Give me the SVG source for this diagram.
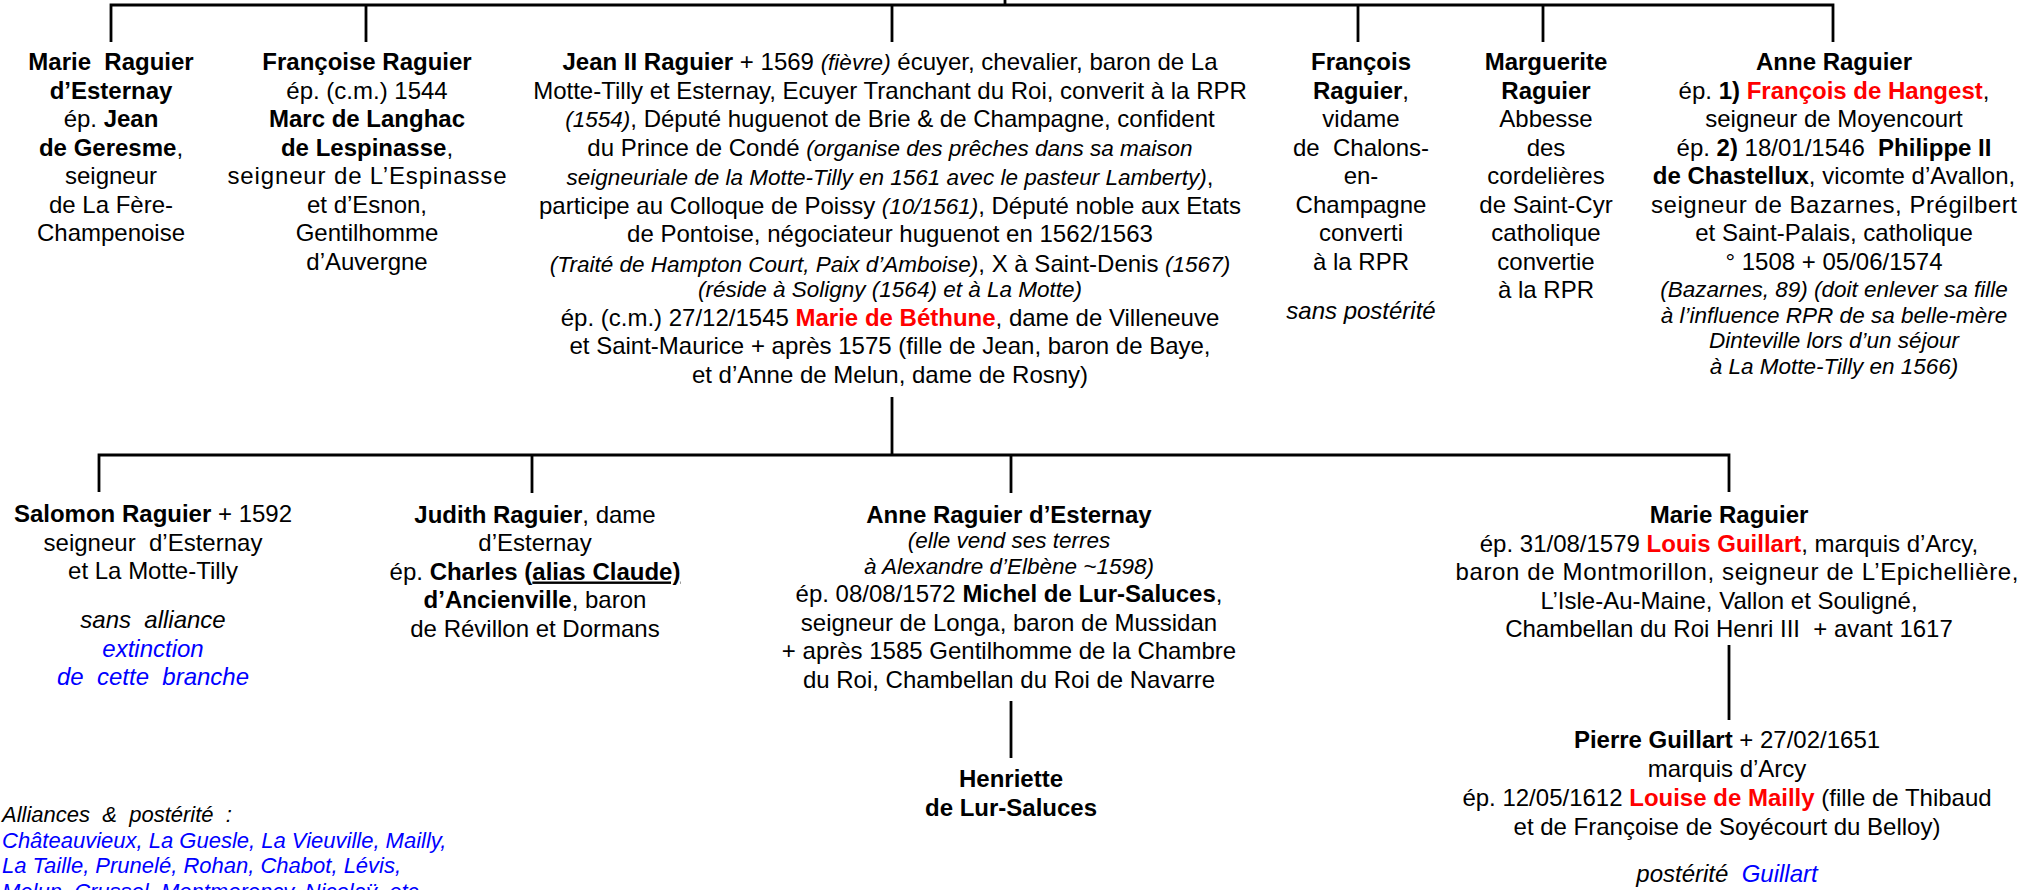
<svg xmlns="http://www.w3.org/2000/svg" width="2036" height="890" viewBox="0 0 2036 890">
<style>
text { font-family: "Liberation Sans", Arial, sans-serif; font-size: 24px; fill: #000; text-anchor: middle; }
.l { text-anchor: start; }
.b { font-weight: bold; }
.i { font-style: italic; font-size: 22.5px; }
.I { font-style: italic; }
.s { font-size: 22px; font-style: italic; }
.r { fill: #FF0000; font-weight: bold; }
.bl { fill: #0000FF; }
.u { text-decoration: underline; }
.ln { stroke: #000; stroke-width: 2.8; fill: none; }
</style>
<rect x="0" y="0" width="2036" height="890" fill="#FFFFFF"/>
<g id="connectors">
  <path class="ln" d="M1005,0 V5"/>
  <path class="ln" d="M111,42 V5 H1833 V42"/>
  <path class="ln" d="M366,5 V42 M892,5 V42 M1358,5 V42 M1543,5 V42"/>
  <path class="ln" d="M892,397 V455"/>
  <path class="ln" d="M99,492 V455 H1729 V492"/>
  <path class="ln" d="M532,455 V493 M1011,455 V493"/>
  <path class="ln" d="M1011,701 V758"/>
  <path class="ln" d="M1729,645 V720"/>
</g>
<g id="marie-esternay">
  <text x="111" y="70"><tspan class="b">Marie&#160; Raguier</tspan></text>
  <text x="111" y="98.5"><tspan class="b">d’Esternay</tspan></text>
  <text x="111" y="127">ép. <tspan class="b">Jean</tspan></text>
  <text x="111" y="155.5"><tspan class="b">de Geresme</tspan>,</text>
  <text x="111" y="184">seigneur</text>
  <text x="111" y="212.5">de La Fère-</text>
  <text x="111" y="241">Champenoise</text>
</g>
<g id="francoise">
  <text x="367" y="70"><tspan class="b">Françoise Raguier</tspan></text>
  <text x="367" y="98.5">ép. (c.m.) 1544</text>
  <text x="367" y="127"><tspan class="b">Marc de Langhac</tspan></text>
  <text x="367" y="155.5"><tspan class="b">de Lespinasse</tspan>,</text>
  <text x="367" y="184" textLength="279" lengthAdjust="spacing">seigneur de L’Espinasse</text>
  <text x="367" y="212.5">et d’Esnon,</text>
  <text x="367" y="241">Gentilhomme</text>
  <text x="367" y="269.5">d’Auvergne</text>
</g>
<g id="jean-ii">
  <text x="890" y="70"><tspan class="b">Jean II Raguier</tspan> + 1569 <tspan class="i">(fièvre)</tspan> écuyer, chevalier, baron de La</text>
  <text x="890" y="98.5">Motte-Tilly et Esternay, Ecuyer Tranchant du Roi, converit à la RPR</text>
  <text x="890" y="127"><tspan class="i">(1554)</tspan>, Député huguenot de Brie &amp; de Champagne, confident</text>
  <text x="890" y="156">du Prince de Condé <tspan class="i">(organise des prêches dans sa maison</tspan></text>
  <text x="890" y="185"><tspan class="i">seigneuriale de la Motte-Tilly en 1561 avec le pasteur Lamberty)</tspan>,</text>
  <text x="890" y="213.5">participe au Colloque de Poissy <tspan class="i">(10/1561)</tspan>, Député noble aux Etats</text>
  <text x="890" y="242">de Pontoise, négociateur huguenot en 1562/1563</text>
  <text x="890" y="271.5"><tspan class="i">(Traité de Hampton Court, Paix d’Amboise)</tspan>, X à Saint-Denis <tspan class="i">(1567)</tspan></text>
  <text x="890" y="297"><tspan class="i">(réside à Soligny (1564) et à La Motte)</tspan></text>
  <text x="890" y="325.5">ép. (c.m.) 27/12/1545 <tspan class="r">Marie de Béthune</tspan>, dame de Villeneuve</text>
  <text x="890" y="354">et Saint-Maurice + après 1575 (fille de Jean, baron de Baye,</text>
  <text x="890" y="382.5">et d’Anne de Melun, dame de Rosny)</text>
</g>
<g id="francois">
  <text x="1361" y="70"><tspan class="b">François</tspan></text>
  <text x="1361" y="98.5"><tspan class="b">Raguier</tspan>,</text>
  <text x="1361" y="127">vidame</text>
  <text x="1361" y="155.5">de&#160; Chalons-</text>
  <text x="1361" y="184">en-</text>
  <text x="1361" y="212.5">Champagne</text>
  <text x="1361" y="241">converti</text>
  <text x="1361" y="269.5">à la RPR</text>
  <text x="1361" y="319"><tspan class="I">sans postérité</tspan></text>
</g>
<g id="marguerite">
  <text x="1546" y="70"><tspan class="b">Marguerite</tspan></text>
  <text x="1546" y="98.5"><tspan class="b">Raguier</tspan></text>
  <text x="1546" y="127">Abbesse</text>
  <text x="1546" y="155.5">des</text>
  <text x="1546" y="184">cordelières</text>
  <text x="1546" y="212.5">de Saint-Cyr</text>
  <text x="1546" y="241">catholique</text>
  <text x="1546" y="269.5">convertie</text>
  <text x="1546" y="298">à la RPR</text>
</g>
<g id="anne">
  <text x="1834" y="70"><tspan class="b">Anne Raguier</tspan></text>
  <text x="1834" y="98.5">ép. <tspan class="b">1)</tspan> <tspan class="r">François de Hangest</tspan>,</text>
  <text x="1834" y="127">seigneur de Moyencourt</text>
  <text x="1834" y="155.5">ép. <tspan class="b">2)</tspan> 18/01/1546&#160; <tspan class="b">Philippe II</tspan></text>
  <text x="1834" y="184"><tspan class="b">de Chastellux</tspan>, vicomte d’Avallon,</text>
  <text x="1834" y="212.5" textLength="366" lengthAdjust="spacing">seigneur de Bazarnes, Prégilbert</text>
  <text x="1834" y="241">et Saint-Palais, catholique</text>
  <text x="1834" y="269.5">° 1508 + 05/06/1574</text>
  <text x="1834" y="297"><tspan class="i">(Bazarnes, 89) (doit enlever sa fille</tspan></text>
  <text x="1834" y="322.5"><tspan class="i">à l’influence RPR de sa belle-mère</tspan></text>
  <text x="1834" y="348"><tspan class="i">Dinteville lors d’un séjour</tspan></text>
  <text x="1834" y="373.5"><tspan class="i">à La Motte-Tilly en 1566)</tspan></text>
</g>
<g id="salomon">
  <text x="153" y="522"><tspan class="b">Salomon Raguier</tspan> + 1592</text>
  <text x="153" y="550.5">seigneur&#160; d’Esternay</text>
  <text x="153" y="579">et La Motte-Tilly</text>
  <text x="153" y="628"><tspan class="I">sans&#160; alliance</tspan></text>
  <text x="153" y="656.5"><tspan class="I bl">extinction</tspan></text>
  <text x="153" y="685"><tspan class="I bl">de&#160; cette&#160; branche</tspan></text>
</g>
<g id="judith">
  <text x="535" y="522.5"><tspan class="b">Judith Raguier</tspan>, dame</text>
  <text x="535" y="551">d’Esternay</text>
  <text x="535" y="579.5">ép. <tspan class="b">Charles (<tspan class="u">alias Claude)</tspan></tspan></text>
  <text x="535" y="608"><tspan class="b">d’Ancienville</tspan>, baron</text>
  <text x="535" y="636.5">de Révillon et Dormans</text>
</g>
<g id="anne-esternay">
  <text x="1009" y="522.5"><tspan class="b">Anne Raguier d’Esternay</tspan></text>
  <text x="1009" y="548"><tspan class="i">(elle vend ses terres</tspan></text>
  <text x="1009" y="573.5"><tspan class="i">à Alexandre d’Elbène ~1598)</tspan></text>
  <text x="1009" y="602">ép. 08/08/1572 <tspan class="b">Michel de Lur-Saluces</tspan>,</text>
  <text x="1009" y="630.5">seigneur de Longa, baron de Mussidan</text>
  <text x="1009" y="659">+ après 1585 Gentilhomme de la Chambre</text>
  <text x="1009" y="687.5">du Roi, Chambellan du Roi de Navarre</text>
</g>
<g id="henriette">
  <text x="1011" y="787"><tspan class="b">Henriette</tspan></text>
  <text x="1011" y="815.5"><tspan class="b">de Lur-Saluces</tspan></text>
</g>
<g id="marie-raguier">
  <text x="1729" y="523"><tspan class="b">Marie Raguier</tspan></text>
  <text x="1729" y="551.5">ép. 31/08/1579 <tspan class="r">Louis Guillart</tspan>, marquis d’Arcy,</text>
  <text x="1737" y="580" textLength="563" lengthAdjust="spacing">baron de Montmorillon, seigneur de L’Epichellière,</text>
  <text x="1729" y="608.5">L’Isle-Au-Maine, Vallon et Souligné,</text>
  <text x="1729" y="637">Chambellan du Roi Henri III&#160; + avant 1617</text>
</g>
<g id="pierre">
  <text x="1727" y="748"><tspan class="b">Pierre Guillart</tspan> + 27/02/1651</text>
  <text x="1727" y="777">marquis d’Arcy</text>
  <text x="1727" y="806">ép. 12/05/1612 <tspan class="r">Louise de Mailly</tspan> (fille de Thibaud</text>
  <text x="1727" y="834.5">et de Françoise de Soyécourt du Belloy)</text>
  <text x="1727" y="882"><tspan class="I">postérité</tspan>&#160; <tspan class="I bl">Guillart</tspan></text>
</g>
<g id="alliances">
  <text class="l" x="2" y="822"><tspan class="s">Alliances&#160; &amp;&#160; postérité&#160; :</tspan></text>
  <text class="l" x="2" y="847.5"><tspan class="s bl">Châteauvieux, La Guesle, La Vieuville, Mailly,</tspan></text>
  <text class="l" x="2" y="873"><tspan class="s bl">La Taille, Prunelé, Rohan, Chabot, Lévis,</tspan></text>
  <text class="l" x="2" y="898.5"><tspan class="s bl">Melun, Crussol, Montmorency, Nicolaÿ, etc.</tspan></text>
</g>
</svg>
